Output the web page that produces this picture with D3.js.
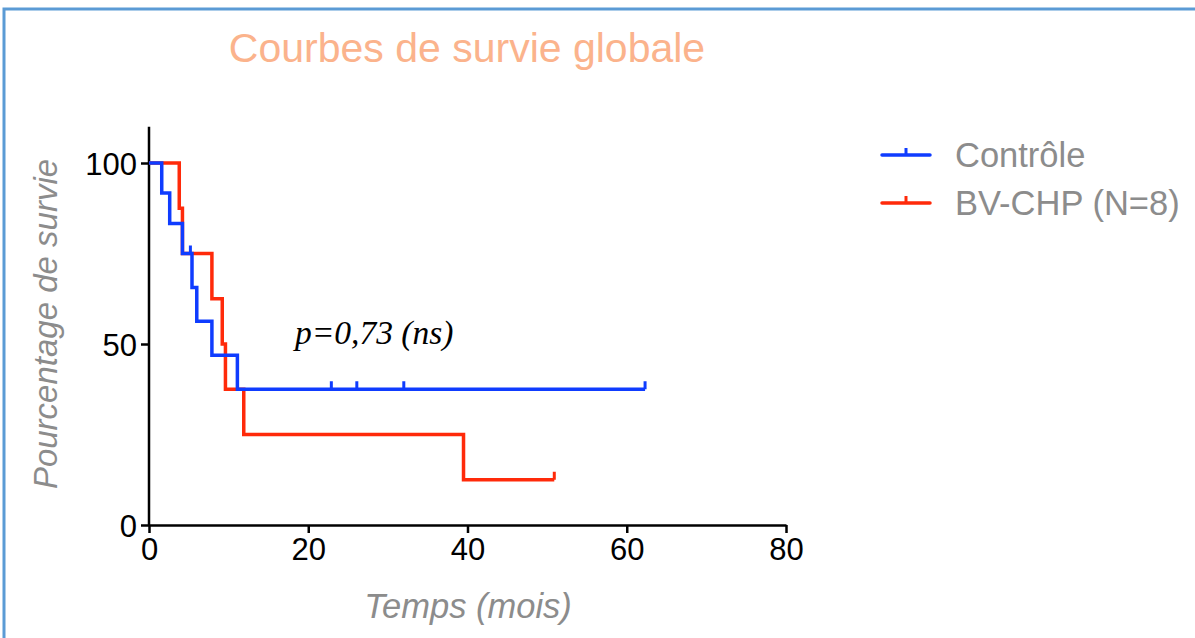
<!DOCTYPE html>
<html>
<head>
<meta charset="utf-8">
<script src="https://cdn.jsdelivr.net/npm/d3@7"></script>
<style>
  body { margin: 0; background: #fff; }
  svg { display: block; }
</style>
</head>
<body>
<div id="chart"></div>
<script>
// Kaplan-Meier steps (time in months, survival in %)
var controlTimes = [0, 1.6, 2.6, 4.2, 5.4, 6.0, 7.9, 11.1];
var controlSurv = [100, 91.7, 83.3, 75, 65.6, 56.3, 46.9, 37.5];
var controlEnd = 62.3;
var controlCensorT = [5.2, 22.9, 26.1, 32.0, 62.3];
var controlCensorS = [75, 37.5, 37.5, 37.5, 37.5];

var bvTimes = [0, 3.8, 4.2, 7.9, 9.2, 9.6, 11.9, 39.5];
var bvSurv = [100, 87.5, 75, 62.5, 50, 37.5, 25, 12.5];
var bvEnd = 50.9;
var bvCensorT = [50.9];
var bvCensorS = [12.5];

var seriesNames = ["Contrôle", "BV-CHP (N=8)"];
var seriesColors = ["#0f3cff", "#ff2a0a"];
var xTicks = [0, 20, 40, 60, 80];
var yTicks = [0, 50, 100];

var width = 1195, height = 638;
var svg = d3.select("#chart").append("svg")
    .attr("width", width)
    .attr("height", height);

// frame
svg.append("rect")
    .attr("x", 4).attr("y", 9)
    .attr("width", width + 20).attr("height", height + 20)
    .attr("fill", "none")
    .attr("stroke", "#5b9bd5")
    .attr("stroke-width", 3);

var x = d3.scaleLinear().domain([0, 80]).range([149, 786]);
var y = d3.scaleLinear().domain([0, 100]).range([525, 163]);

svg.append("text")
    .attr("x", 467).attr("y", 62)
    .attr("text-anchor", "middle")
    .style("font-family", "Liberation Sans, Arial, sans-serif")
    .style("font-size", "41px")
    .style("fill", "#fbb38c")
    .text("Courbes de survie globale");

// axes
var yAxis = svg.append("g")
    .attr("transform", "translate(" + x(0) + ",0)")
    .call(d3.axisLeft(y).tickValues(yTicks).tickSize(8).tickSizeOuter(0));
yAxis.select(".domain").attr("d", "M0," + y(110) + "V" + y(0));

var xAxis = svg.append("g")
    .attr("transform", "translate(0," + y(0) + ")")
    .call(d3.axisBottom(x).tickValues(xTicks).tickSize(8).tickSizeOuter(0));

[xAxis, yAxis].forEach(function (g) {
    g.selectAll("path, line").attr("stroke", "#000").attr("stroke-width", 2.5);
    g.selectAll("text")
        .style("font-family", "Liberation Sans, Arial, sans-serif")
        .style("font-size", "31px")
        .attr("fill", "#000");
});
yAxis.selectAll("text").attr("x", -12).attr("dy", "0.36em");
xAxis.selectAll("text").attr("y", 13).attr("dy", "0.71em");

svg.append("text")
    .attr("transform", "translate(57,324) rotate(-90)")
    .attr("text-anchor", "middle")
    .style("font-family", "Liberation Sans, Arial, sans-serif")
    .style("font-style", "italic")
    .style("font-size", "33px")
    .style("fill", "#8c8c8c")
    .text("Pourcentage de survie");

svg.append("text")
    .attr("x", 468).attr("y", 618)
    .attr("text-anchor", "middle")
    .style("font-family", "Liberation Sans, Arial, sans-serif")
    .style("font-style", "italic")
    .style("font-size", "34.5px")
    .style("fill", "#8c8c8c")
    .text("Temps (mois)");

var line = d3.line()
    .x(function (d) { return x(d[0]); })
    .y(function (d) { return y(d[1]); })
    .curve(d3.curveStepAfter);

function drawCurve(times, surv, end, cT, cS, color) {
    var pts = times.map(function (t, i) { return [t, surv[i]]; });
    pts.push([end, surv[surv.length - 1]]);
    svg.append("path")
        .datum(pts)
        .attr("d", line)
        .attr("fill", "none")
        .attr("stroke", color)
        .attr("stroke-width", 3.5)
        .attr("stroke-linejoin", "miter");
    svg.selectAll(null)
        .data(cT)
        .enter().append("line")
        .attr("x1", function (d) { return x(d); })
        .attr("x2", function (d) { return x(d); })
        .attr("y1", function (d, i) { return y(cS[i]); })
        .attr("y2", function (d, i) { return y(cS[i]) - 8; })
        .attr("stroke", color)
        .attr("stroke-width", 3);
}

drawCurve(bvTimes, bvSurv, bvEnd, bvCensorT, bvCensorS, seriesColors[1]);
drawCurve(controlTimes, controlSurv, controlEnd, controlCensorT, controlCensorS, seriesColors[0]);

svg.append("text")
    .attr("x", 295).attr("y", 344)
    .style("font-family", "Liberation Serif, Times New Roman, serif")
    .style("font-style", "italic")
    .style("font-size", "33.5px")
    .style("fill", "#000")
    .text("p=0,73 (ns)");

// legend
var legends = svg.selectAll(".leg")
    .data(seriesNames)
    .enter().append("g")
    .attr("class", "leg")
    .attr("transform", function (d, i) { return "translate(882," + (155 + i * 48) + ")"; });

legends.append("line")
    .attr("x1", 0).attr("x2", 48)
    .attr("y1", 0).attr("y2", 0)
    .attr("stroke", function (d, i) { return seriesColors[i]; })
    .attr("stroke-width", 3.5)
    .attr("stroke-linecap", "round");
legends.append("line")
    .attr("x1", 24).attr("x2", 24)
    .attr("y1", 0).attr("y2", -7)
    .attr("stroke", function (d, i) { return seriesColors[i]; })
    .attr("stroke-width", 3);
legends.append("text")
    .attr("x", 73).attr("y", 0)
    .attr("dy", "0.35em")
    .style("font-family", "Liberation Sans, Arial, sans-serif")
    .style("font-size", "34.5px")
    .style("fill", "#8c8c8c")
    .text(function (d) { return d; });
</script>
</body>
</html>
